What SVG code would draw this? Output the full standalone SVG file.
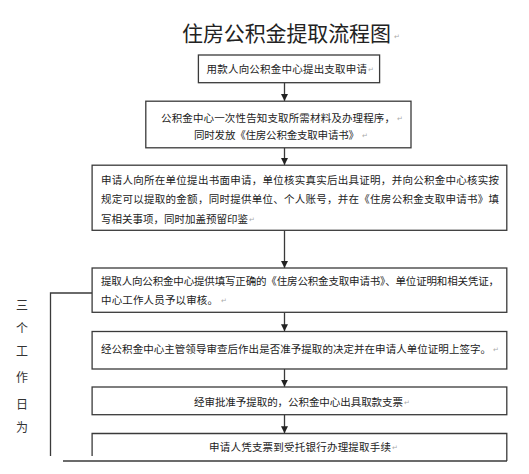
<svg xmlns="http://www.w3.org/2000/svg" width="529" height="474" viewBox="0 0 529 474">
<defs>
<style>
.box{fill:#fff;stroke:#3a3a3a;stroke-width:1.3}
.ln{fill:none;stroke:#3a3a3a;stroke-width:1.3}
.t{font-family:"Noto Sans CJK SC","Noto Sans",sans-serif;font-size:10.5px;fill:#222}
.ttl{font-family:"Noto Sans CJK SC","Noto Sans",sans-serif;font-size:21px;fill:#222}
.v{font-family:"Noto Sans CJK SC","Noto Sans",sans-serif;font-size:12px;fill:#333;text-anchor:middle}
.pm{font-family:"DejaVu Sans",sans-serif;font-size:7px;fill:#aaa}
</style>
<marker id="ah" viewBox="0 0 8 8" refX="8" refY="4" markerWidth="7" markerHeight="7" markerUnits="userSpaceOnUse" orient="auto">
<path d="M0,0 L8,4 L0,8 Z" fill="#222"/>
</marker>
</defs>
<rect width="529" height="474" fill="#fff"/>

<g id="title">
<text class="ttl" x="182" y="41" textLength="209" lengthAdjust="spacing">住房公积金提取流程图</text>
<text class="pm" x="394" y="39">↵</text>
</g>

<g id="connectors">
<line class="ln" x1="284.5" y1="82.7" x2="284.5" y2="101" marker-end="url(#ah)"/>
<line class="ln" x1="284.5" y1="147.8" x2="284.5" y2="165" marker-end="url(#ah)"/>
<line class="ln" x1="284.5" y1="230.3" x2="284.5" y2="268" marker-end="url(#ah)"/>
<line class="ln" x1="284.5" y1="312.3" x2="284.5" y2="331.3" marker-end="url(#ah)"/>
<line class="ln" x1="284.5" y1="369" x2="284.5" y2="386.8" marker-end="url(#ah)"/>
<line class="ln" x1="284.5" y1="414.7" x2="284.5" y2="433.3" marker-end="url(#ah)"/>
<polyline class="ln" points="92,293 50.5,293 50.5,456"/>
<line class="ln" x1="63" y1="461" x2="507" y2="461"/>
</g>

<g id="n1">
<rect class="box" x="198.4" y="55" width="181.2" height="27.7"/>
<text class="t" x="206.5" y="73" textLength="160.5" lengthAdjust="spacing">用款人向公积金中心提出支取申请</text>
<text class="pm" x="368" y="72">↵</text>
</g>

<g id="n2">
<rect class="box" x="145.8" y="101.2" width="265.2" height="46.6"/>
<text class="t" x="161" y="122" textLength="234" lengthAdjust="spacing">公积金中心一次性告知支取所需材料及办理程序，</text>
<text class="pm" x="397" y="121">↵</text>
<text class="t" x="194" y="139" textLength="165" lengthAdjust="spacing">同时发放《住房公积金支取申请书》</text>
<text class="pm" x="362" y="138">↵</text>
</g>

<g id="n3">
<rect class="box" x="92.1" y="165.2" width="414.7" height="65.1"/>
<text class="t" x="101" y="183.5" textLength="398" lengthAdjust="spacing">申请人向所在单位提出书面申请，单位核实真实后出具证明，并向公积金中心核实按</text>
<text class="t" x="101" y="202.5" textLength="398" lengthAdjust="spacing">规定可以提取的金额，同时提供单位、个人账号，并在《住房公积金支取申请书》填</text>
<text class="t" x="101" y="222.5" textLength="147" lengthAdjust="spacing">写相关事项，同时加盖预留印鉴</text>
<text class="pm" x="249" y="221.5">↵</text>
</g>

<g id="n4">
<rect class="box" x="92.1" y="268" width="414.7" height="44.3"/>
<text class="t" x="101" y="285" textLength="398" lengthAdjust="spacing">提取人向公积金中心提供填写正确的《住房公积金支取申请书》、单位证明和相关凭证，</text>
<text class="t" x="101" y="304" textLength="117" lengthAdjust="spacing">中心工作人员予以审核。</text>
<text class="pm" x="221" y="303">↵</text>
</g>

<g id="n5">
<rect class="box" x="92.1" y="331.5" width="414.7" height="37.5"/>
<text class="t" x="101" y="353.4" textLength="390" lengthAdjust="spacing">经公积金中心主管领导审查后作出是否准予提取的决定并在申请人单位证明上签字。</text>
<text class="pm" x="493" y="352.4">↵</text>
</g>

<g id="n6">
<rect class="box" x="92.1" y="387" width="414.7" height="27.7"/>
<text class="t" x="194" y="406" textLength="209" lengthAdjust="spacing">经审批准予提取的，公积金中心出具取款支票</text>
<text class="pm" x="404" y="405">↵</text>
</g>

<g id="n7">
<polyline class="ln" points="92.1,456 92.1,433.5 506.8,433.5 506.8,461"/>
<text class="t" x="209" y="451" textLength="182" lengthAdjust="spacing">申请人凭支票到受托银行办理提取手续</text>
<text class="pm" x="392" y="450">↵</text>
</g>

<g id="side-label">
<text class="v" x="22" y="310">三</text>
<text class="v" x="22" y="333">个</text>
<text class="v" x="22" y="355.5">工</text>
<text class="v" x="22" y="381.5">作</text>
<text class="v" x="22" y="408.5">日</text>
<text class="v" x="22" y="432">为</text>
</g>
</svg>
